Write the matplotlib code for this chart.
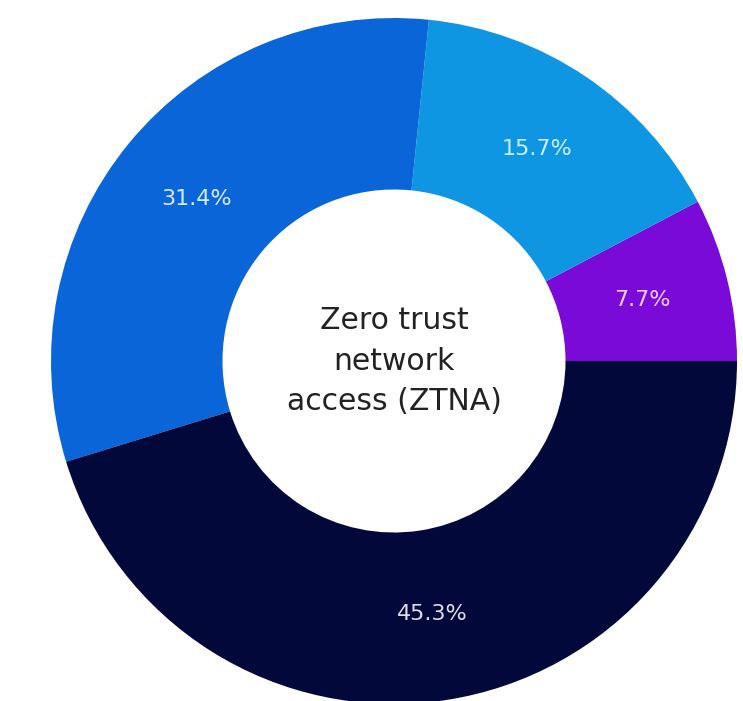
import matplotlib.pyplot as plt
import numpy as np

# Share of respondents - ZTNA
labels = ['7.7%', '15.7%', '31.4%', '45.3%']
values = [7.7, 15.7, 31.4, 45.3]
colors = ['#7A0AD8', '#0E96E2', '#0A66D8', '#02093A']
label_colors = ['#F2CCFF', '#C8F2FF', '#D6EAFF', '#DCDCEA']
center_text = 'Zero trust\nnetwork\naccess (ZTNA)'

W, H = 743, 701
cx, cy = 394, 361
R = 343

fig = plt.figure(figsize=(W / 100, H / 100), dpi=100)
ax = fig.add_axes([0, 0, 1, 1])

wedges, texts = ax.pie(values, colors=colors, startangle=0, counterclock=True,
                       radius=R, wedgeprops=dict(width=R * 0.5, linewidth=0))

# percentage labels placed at wedge midpoints
ang = 0.0
total = sum(values)
for v, lab, lc in zip(values, labels, label_colors):
    mid = np.deg2rad(ang + v / total * 180)
    r = R * 0.745
    ax.text(r * np.cos(mid), r * np.sin(mid), lab, ha='center', va='center',
            fontsize=16, color=lc, family='DejaVu Sans')
    ang += v / total * 360

ax.text(0, 0, center_text, ha='center', va='center', fontsize=21.5,
        color='#222222', family='DejaVu Sans', linespacing=1.5)

ax.set_xlim(-cx, W - cx)
ax.set_ylim(-(H - cy), cy)
ax.set_aspect('equal')
ax.axis('off')

fig.savefig('out.png', dpi=100, facecolor='white')
